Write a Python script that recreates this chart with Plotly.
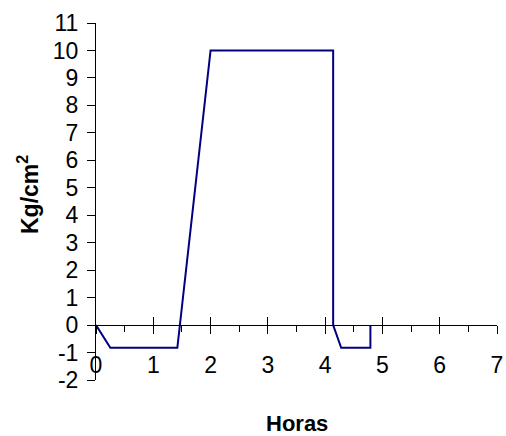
import plotly.graph_objects as go

horas = [0, 0.25, 1.42, 2.0, 4.14, 4.14, 4.28, 4.79, 4.79]
presion = [0, -0.83, -0.83, 10, 10, 0, -0.83, -0.83, 0]

x_ticks = list(range(0, 8))
y_ticks = list(range(-2, 12))

YMIN, YMAX = -2, 11
XMIN, XMAX = 0, 7
pos0 = (0 - YMIN) / (YMAX - YMIN)

FAM = "Liberation Sans, Arial, sans-serif"
font = dict(family=FAM, size=23, color="black")

fig = go.Figure()
fig.add_trace(go.Scatter(x=horas, y=presion, mode="lines",
                         line=dict(color="#000080", width=2), showlegend=False))
fig.add_trace(go.Scatter(x=[XMIN], y=[0], xaxis="x2", mode="markers",
                         marker=dict(opacity=0), showlegend=False, hoverinfo="skip"))

L, R, T, B = 96, 9, 23, 56
W, H = 506, 436
plot_w = W - L - R
plot_h = H - T - B

fig.update_layout(
    width=W, height=H,
    margin=dict(l=L, r=R, t=T, b=B, autoexpand=False),
    paper_bgcolor="white", plot_bgcolor="white",
    font=font,
    xaxis=dict(range=[XMIN, XMAX], tickvals=x_ticks, ticktext=[str(v) for v in x_ticks],
               anchor="free", position=pos0, automargin=False,
               showline=True, linecolor="black", linewidth=1,
               ticks="outside", ticklen=8, tickcolor="black", tickwidth=1,
               minor=dict(ticks="outside", ticklen=6, dtick=0.5, tickcolor="black", tickwidth=1),
               showgrid=False, zeroline=False, tickfont=font, ticklabelstandoff=11),
    xaxis2=dict(range=[XMIN, XMAX], tickvals=x_ticks, overlaying="x",
                anchor="free", position=pos0, side="bottom", automargin=False,
                showline=False, ticks="inside", ticklen=8, tickcolor="black", tickwidth=1,
                showticklabels=False, showgrid=False, zeroline=False),
    yaxis=dict(range=[YMIN, YMAX], tickvals=y_ticks, ticktext=[str(v) for v in y_ticks],
               automargin=False,
               showline=True, linecolor="black", linewidth=1,
               ticks="outside", ticklen=8, tickcolor="black", tickwidth=1,
               showgrid=False, zeroline=False, tickfont=font, ticklabelstandoff=4),
    annotations=[
        dict(text="<b>Horas</b>", x=0.5, xref="paper", y=(H - B - 423) / plot_h, yref="paper",
             showarrow=False, font=dict(family=FAM, size=22, color="black"),
             xanchor="center", yanchor="middle"),
        dict(text="<b>Kg/cm<sup>2</sup></b>", x=(28 - L) / plot_w, y=(H - B - 195) / plot_h,
             xref="paper", yref="paper",
             showarrow=False, textangle=-90,
             font=dict(family=FAM, size=23, color="black"),
             xanchor="center", yanchor="middle"),
    ],
)

fig.write_html("out.html")
